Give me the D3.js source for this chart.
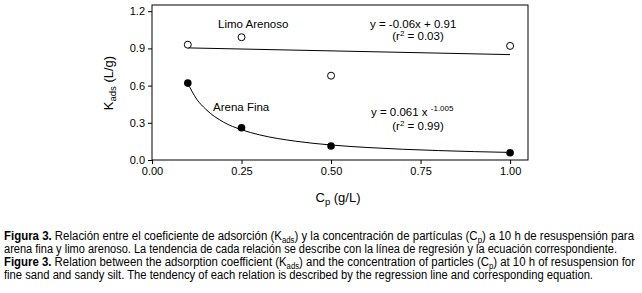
<!DOCTYPE html>
<html>
<head>
<meta charset="utf-8">
<script src="https://cdn.jsdelivr.net/npm/d3@7"></script>
<style>
  body { margin: 0; background: #fff; }
  svg { display: block; font-family: "Liberation Sans", Arial, sans-serif; }
  .axis text { font-size: 11px; fill: #000; }
  .axis path, .axis line { stroke: #000; }
  .note { font-size: 11.5px; }
  .caption { font-family: "Liberation Sans Narrow", "Arial Narrow", "Liberation Sans", sans-serif; font-size: 12.5px; }
</style>
</head>
<body>
<div id="chart"></div>
<script>
/* Kads vs Cp scatter with fitted trends */

const width = 642, height = 293,
    margin = ({ top: 5, right: 114, bottom: 133, left: 152 });

// measured points
const cpValues = [0.1, 0.25, 0.5, 1.0];
const limoArenoso = [0.93, 0.99, 0.68, 0.92];
const arenaFina = [0.62, 0.26, 0.113, 0.059];

// trend lines
const limoFitX = [0.1, 1.0];
const limoFitY = [0.904, 0.85];
const arenaFitX = [0.1, 0.125, 0.15, 0.2, 0.25, 0.3, 0.4, 0.5, 0.6, 0.8, 1.0];
const arenaFitY = [0.617, 0.49, 0.41, 0.305, 0.244, 0.203, 0.152, 0.121, 0.101, 0.076, 0.061];

const xTicks = [0, 0.25, 0.5, 0.75, 1.0];
const yTicks = [0, 0.3, 0.6, 0.9, 1.2];

// caption lines: [text, bold, subscript]
const captionLines = [
    [["Figura 3.", "b"], [" Relación entre el coeficiente de adsorción (K"], ["ads", "s"], [") y la concentración de partículas (C"], ["p", "s"], [") a 10 h de resuspensión para"]],
    [["arena fina y limo arenoso. La tendencia de cada relación se describe con la línea de regresión y la ecuación correspondiente."]],
    [["Figure 3.", "b"], [" Relation between the adsorption coefficient (K"], ["ads", "s"], [") and the concentration of particles (C"], ["p", "s"], [") at 10 h of resuspension for"]],
    [["fine sand and sandy silt. The tendency of each relation is described by the regression line and corresponding equation."]]
];
const captionWidths = [630, 613, 631, 589];

const svg = d3.select("#chart")
    .append("svg")
    .attr("width", width)
    .attr("height", height);

let x = d3.scaleLinear()
    .domain([0, 1.05])
    .range([margin.left, width - margin.right]);

let y = d3.scaleLinear()
    .domain([0, 1.25])
    .range([height - margin.bottom, margin.top]);

// frame
svg.append("rect")
    .attr("x", x(0))
    .attr("y", y(1.25))
    .attr("width", x(1.05) - x(0))
    .attr("height", y(0) - y(1.25))
    .attr("fill", "none")
    .attr("stroke", "#000");

svg.append("g")
    .attr("class", "axis")
    .attr("transform", `translate(${x(0)},0)`)
    .call(d3.axisLeft(y).tickValues(yTicks).tickFormat(d3.format(".1f")).tickSize(4).tickSizeOuter(0))
    .call(g => g.select(".domain").remove());

svg.append("g")
    .attr("class", "axis")
    .attr("transform", `translate(0,${y(0)})`)
    .call(d3.axisBottom(x).tickValues(xTicks).tickFormat(d3.format(".2f")).tickSize(4).tickSizeOuter(0))
    .call(g => g.select(".domain").remove());

// axis titles
let yLab = svg.append("text")
    .attr("transform", `translate(113,83) rotate(-90)`)
    .attr("text-anchor", "middle")
    .style("font-size", "13px");
yLab.append("tspan").text("K");
yLab.append("tspan").attr("dy", 3).style("font-size", "9.5px").text("ads");
yLab.append("tspan").attr("dy", -3).text(" (L/g)");

let xLab = svg.append("text")
    .attr("x", 338)
    .attr("y", 202)
    .attr("text-anchor", "middle")
    .style("font-size", "13px");
xLab.append("tspan").text("C");
xLab.append("tspan").attr("dy", 3).style("font-size", "9.5px").text("p");
xLab.append("tspan").attr("dy", -3).text(" (g/L)");

// trend lines
let line = d3.line().x(d => x(d[0])).y(d => y(d[1]));

svg.append("path")
    .datum(d3.zip(limoFitX, limoFitY))
    .attr("d", line)
    .attr("fill", "none")
    .attr("stroke", "#000");

svg.append("path")
    .datum(d3.zip(arenaFitX, arenaFitY))
    .attr("d", line.curve(d3.curveMonotoneX))
    .attr("fill", "none")
    .attr("stroke", "#000");

// points
svg.append("g")
    .selectAll("circle")
    .data(d3.zip(cpValues, limoArenoso))
    .join("circle")
    .attr("cx", d => x(d[0]))
    .attr("cy", d => y(d[1]))
    .attr("r", 3.5)
    .attr("fill", "#fff")
    .attr("stroke", "#000");

svg.append("g")
    .selectAll("circle")
    .data(d3.zip(cpValues, arenaFina))
    .join("circle")
    .attr("cx", d => x(d[0]))
    .attr("cy", d => y(d[1]))
    .attr("r", 3.8)
    .attr("fill", "#000");

// labels and equations
svg.append("text").attr("class", "note").attr("x", 218).attr("y", 28).text("Limo Arenoso");
svg.append("text").attr("class", "note").attr("x", 213).attr("y", 111).text("Arena Fina");
svg.append("text").attr("class", "note").attr("x", 370).attr("y", 28).text("y = -0.06x + 0.91");

let r1 = svg.append("text").attr("class", "note").attr("x", 418).attr("y", 40).attr("text-anchor", "middle");
r1.append("tspan").text("(r");
r1.append("tspan").attr("dy", -4).style("font-size", "8px").text("2");
r1.append("tspan").attr("dy", 4).text(" = 0.03)");

let eq2 = svg.append("text").attr("class", "note").attr("x", 371).attr("y", 116);
eq2.append("tspan").text("y = 0.061 x ");
eq2.append("tspan").attr("dy", -5).style("font-size", "8px").text("-1.005");

let r2 = svg.append("text").attr("class", "note").attr("x", 418).attr("y", 130).attr("text-anchor", "middle");
r2.append("tspan").text("(r");
r2.append("tspan").attr("dy", -4).style("font-size", "8px").text("2");
r2.append("tspan").attr("dy", 4).text(" = 0.99)");

// caption
captionLines.forEach((parts, i) => {
    let t = svg.append("text")
        .attr("class", "caption")
        .attr("x", 4)
        .attr("y", 239.5 + i * 13.1)
        .attr("textLength", captionWidths[i])
        .attr("lengthAdjust", "spacingAndGlyphs");
    let shift = 0;
    parts.forEach(p => {
        let s = t.append("tspan").text(p[0]);
        if (p[1] === "b") s.style("font-weight", "bold");
        if (p[1] === "s") { s.attr("dy", 3 - shift).style("font-size", "8.5px"); shift = 3; }
        else if (shift) { s.attr("dy", -shift); shift = 0; }
    });
});
</script>
</body>
</html>
